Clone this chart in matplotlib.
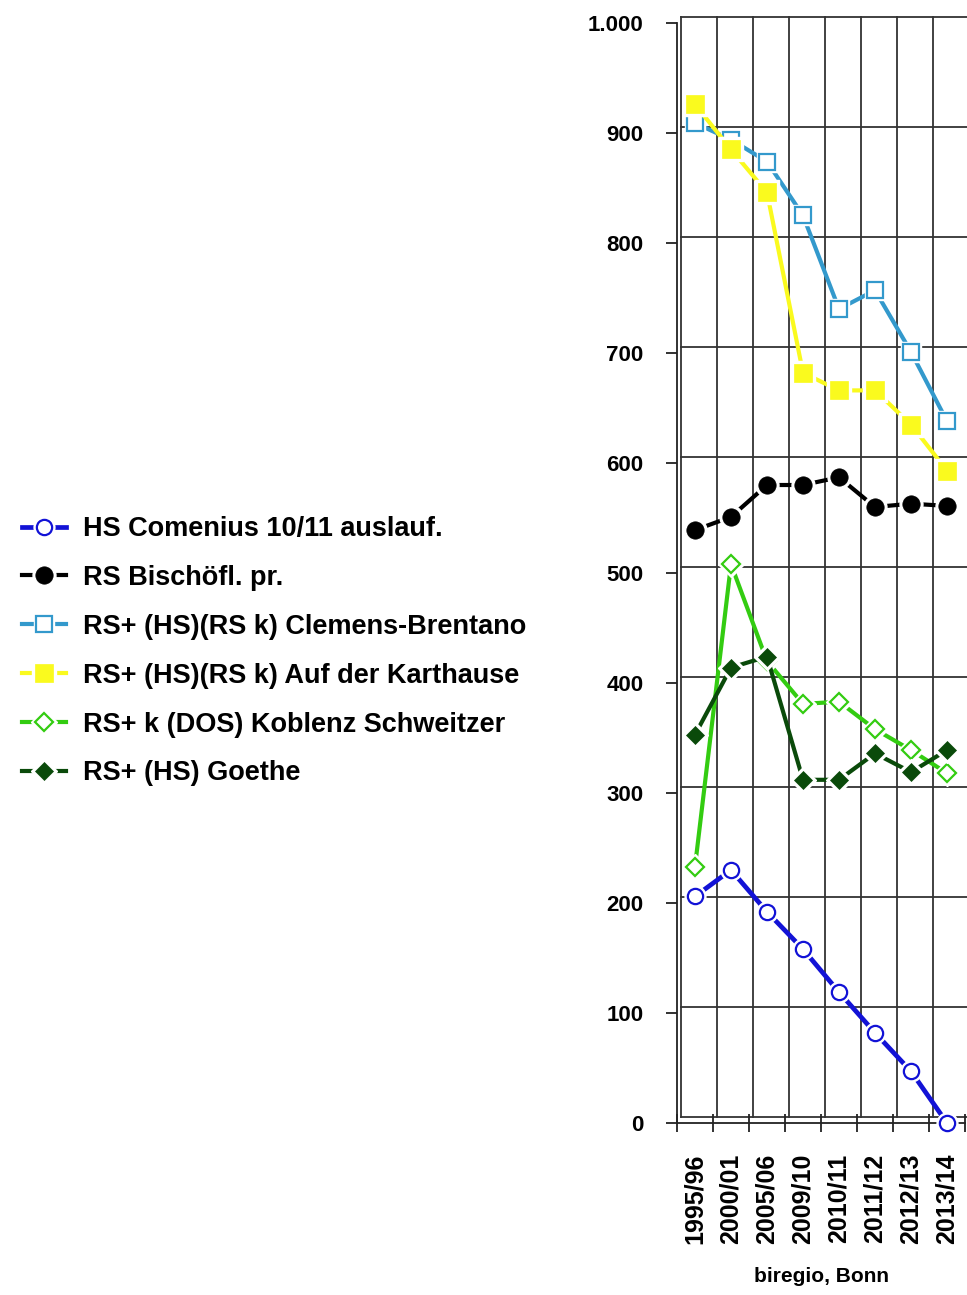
import matplotlib
matplotlib.use("Agg")
import matplotlib.pyplot as plt
from matplotlib.transforms import ScaledTranslation
from matplotlib.legend_handler import HandlerTuple

plt.rcParams['font.family'] = ['Liberation Sans', 'DejaVu Sans']
plt.rcParams['font.weight'] = 'bold'

# Schuljahre und Schülerzahlen je Schule
jahre = ["1995/96", "2000/01", "2005/06", "2009/10", "2010/11", "2011/12", "2012/13", "2013/14"]
comenius = [206, 230, 192, 158, 119, 82, 47, 0]
bischoefl = [539, 551, 580, 580, 587, 560, 563, 561]
brentano = [909, 894, 874, 825, 740, 757, 701, 638]
karthause = [926, 885, 846, 682, 666, 666, 635, 593]
schweitzer = [233, 508, 420, 381, 383, 358, 339, 318]
goethe = [353, 414, 424, 312, 312, 336, 319, 339]

namen = ["HS Comenius 10/11 auslauf.", "RS Bischöfl. pr.", "RS+ (HS)(RS k) Clemens-Brentano",
         "RS+ (HS)(RS k) Auf der Karthause", "RS+ k (DOS) Koblenz Schweitzer", "RS+ (HS) Goethe"]
y_ticks = [0, 100, 200, 300, 400, 500, 600, 700, 800, 900, 1000]
y_labels = ["0", "100", "200", "300", "400", "500", "600", "700", "800", "900", "1.000"]

# farbe, marker, gefüllt, markergröße, linienbreite
stile = [
    ("#1212d6", "o", False, 11, 3.4),
    ("#000000", "o", True, 12.5, 3.0),
    ("#3399cc", "s", False, 11, 3.0),
    ("#fafa1e", "s", True, 13, 3.0),
    ("#33cc11", "D", False, 9.5, 3.0),
    ("#0a4a0a", "D", True, 8.8, 3.0),
]
werte = [comenius, bischoefl, brentano, karthause, schweitzer, goethe]

fig = plt.figure(figsize=(9.67, 12.95), dpi=100)
ax = fig.add_axes([677 / 967, 1 - 1123 / 1295, 288 / 967, 1100 / 1295])

x = list(range(len(jahre)))

# Rückwand mit Gitter (leicht nach hinten versetzt)
wand = ax.transData + ScaledTranslation(0.04, 0.06, fig.dpi_scale_trans)
gitter = "#333333"
for v in y_ticks:
    ax.plot([-0.5, 7.6], [v, v], transform=wand, color=gitter, lw=1.3, zorder=1, clip_on=False)
for k in range(len(jahre) + 1):
    ax.plot([k - 0.5, k - 0.5], [0, 1000], transform=wand, color=gitter, lw=1.3, zorder=1, clip_on=False)

handles = []
for i, (werte_i, (farbe, m, voll, ms, lw)) in enumerate(zip(werte, stile)):
    z = 3 + 3 * i
    linie, = ax.plot(x, werte_i, color=farbe, lw=lw, zorder=z, clip_on=False)
    halo, = ax.plot(x, werte_i, ls="none", marker=m, ms=ms + 4, mfc="white", mec="white",
                    zorder=z + 1, clip_on=False)
    punkte, = ax.plot(x, werte_i, ls="none", marker=m, ms=ms, mfc=farbe if voll else "white",
                      mec=farbe, mew=1.6 if not voll else 0.5, zorder=z + 2, clip_on=False)
    handles.append((linie, halo, punkte))

ax.set_xlim(-0.5, 7.5)
ax.set_ylim(0, 1000)

for s in ["top", "right"]:
    ax.spines[s].set_visible(False)
for s in ["left", "bottom"]:
    ax.spines[s].set_color("#222222")
    ax.spines[s].set_linewidth(1.3)

ax.set_yticks(y_ticks)
ax.set_yticklabels(y_labels, fontsize=16)
ax.tick_params(axis="y", direction="out", length=8, width=1.3, pad=16, color="#222222")

ax.set_xticks(x)
ax.set_xticklabels(jahre, rotation=90, fontsize=18, va="top")
ax.set_xticks([k - 0.5 for k in range(len(jahre) + 1)], minor=True)
ax.tick_params(axis="x", which="major", length=0, pad=22)
ax.tick_params(axis="x", which="minor", direction="inout", length=13, width=1.3, color="#222222")

ax.set_xlabel("biregio, Bonn", fontsize=15, fontweight="bold")
ax.xaxis.set_label_coords(0.5, -0.131)

fig.legend(handles, namen, loc="upper left", bbox_to_anchor=(22 / 967, 1 - 516 / 1295),
           frameon=False, fontsize=19.5, handlelength=1.64, handletextpad=0.62,
           labelspacing=0.845, borderpad=0, borderaxespad=0, numpoints=1,
           handler_map={tuple: HandlerTuple(ndivide=1)})

fig.savefig("out.png", dpi=100)
